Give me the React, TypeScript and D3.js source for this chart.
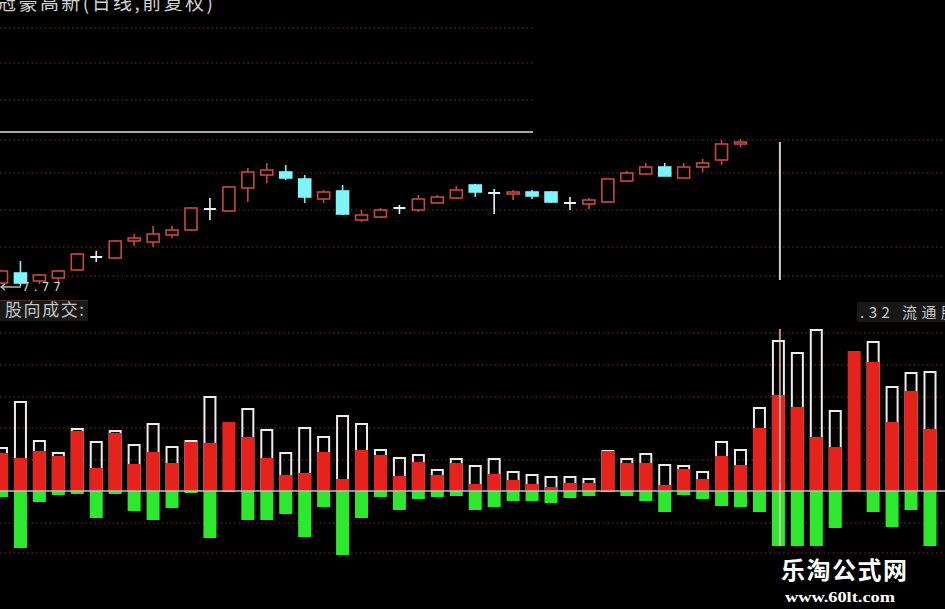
import React, { useEffect } from "react";
import * as d3 from "d3";

// ---- Data ----
const candleOpen = [7.80,7.90,7.82,7.85,7.93,8.06,8.05,8.22,8.21,8.28,8.33,8.54,8.52,8.75,8.88,8.91,8.84,8.64,8.72,8.43,8.46,8.55,8.53,8.60,8.65,8.78,8.70,8.69,8.71,8.71,8.60,8.59,8.61,8.82,8.89,8.96,8.85,8.96,9.03,9.19];
const candleClose = [7.92,7.80,7.88,7.92,8.09,8.06,8.22,8.25,8.29,8.33,8.55,8.54,8.76,8.91,8.93,8.85,8.66,8.71,8.49,8.48,8.53,8.55,8.64,8.66,8.73,8.71,8.70,8.71,8.67,8.61,8.60,8.63,8.84,8.90,8.96,8.87,8.96,9.00,9.19,9.21];
const candleHigh = [7.93,8.02,7.89,7.93,8.10,8.12,8.23,8.29,8.37,8.37,8.56,8.65,8.77,8.95,9.00,8.98,8.88,8.73,8.78,8.53,8.55,8.58,8.68,8.68,8.77,8.79,8.74,8.73,8.73,8.72,8.66,8.65,8.85,8.92,9.00,9.00,9.00,9.04,9.23,9.24];
const candleLow = [7.79,7.77,7.79,7.81,7.92,8.01,8.04,8.17,8.16,8.25,8.32,8.43,8.51,8.61,8.80,8.83,8.60,8.60,8.48,8.41,8.45,8.49,8.51,8.59,8.64,8.66,8.49,8.63,8.64,8.60,8.53,8.54,8.60,8.81,8.88,8.87,8.85,8.91,8.98,9.16];

const volTotal = [44,90,51,39,63,50,61,47,68,45,51,95,69,83,62,39,64,55,76,68,42,34,37,22,33,26,33,20,17,15,15,13,41,33,38,27,26,20,50,42,84,151,139,162,81,140,150,105,119,120];
const volBuy = [38,33,40,35,60,23,58,27,39,28,49,48,69,54,33,16,18,39,12,41,36,15,29,16,28,7,17,11,7,4,8,8,40,28,28,6,22,12,35,26,63,96,84,54,44,140,129,69,100,62];
const volSell = [6,57,11,4,3,27,3,20,29,17,2,47,1,29,29,23,46,16,64,27,6,19,8,6,5,19,16,10,10,12,7,5,1,5,10,21,4,8,15,16,21,55,55,55,37,0,21,36,19,55];

const titleText = "冠豪高新(日线,前复权)";
const volLabel = "股向成交:";
const rightLabel = ".32 流通股";
const lowLabel = "7.77";
const cursorIndex = 41;
const topGrid = [28, 63, 100];
const candleGrid = [140, 173, 210, 247, 276];
const volGrid = [333, 365, 397, 428, 460, 523, 553];

const W = 945, H = 609;

export default function App() {
  useEffect(() => {
    document.body.style.margin = "0";
    document.body.style.background = "#000";
  }, []);

  const n = volTotal.length;
  const x = d3.scaleLinear().domain([0, n - 1]).range([1.5, 930]);
  const py = d3.scaleLinear().domain([7.77, 9.24]).range([286, 139]);
  const vy = d3.scaleLinear().domain([0, 100]).range([491, 391]);
  const bw = 13;
  const cw = 12;

  const RED = "#c44a40";
  const CYAN = "#7ff4fb";
  const WHITE = "#e6f4f4";
  const GRID = "#7a2a2a";

  const cx = x(cursorIndex) + 1.5;

  return (
    <svg width={W} height={H} style={{ position: "fixed", left: 0, top: 0, background: "#000", display: "block" }}>
      <rect x={0} y={0} width={W} height={H} fill="#000" />
      {/* top panel */}
      {topGrid.map((g) => (
        <line key={"tg" + g} x1={0} x2={533} y1={g} y2={g} stroke={GRID} strokeDasharray="1.5 3" strokeWidth={1} />
      ))}
      <line x1={0} x2={533} y1={132} y2={132} stroke="#a8a8a8" strokeWidth={2} />
      <text x={-3} y={10} fontFamily="'Noto Sans CJK SC'" fontSize={19} fill="#d2d2d2" textLength={216} lengthAdjust="spacing">{titleText}</text>

      {/* candle panel grid */}
      {candleGrid.map((g) => (
        <line key={"cg" + g} x1={0} x2={W} y1={g} y2={g} stroke={GRID} strokeDasharray="1.5 3" strokeWidth={1} />
      ))}

      {/* candles */}
      {candleOpen.map((o, i) => {
        const c = candleClose[i];
        const hx = x(i);
        const yo = py(o), yc = py(c), yh = py(candleHigh[i]), yl = py(candleLow[i]);
        if (o === c) {
          return (
            <g key={"c" + i} stroke={WHITE} strokeWidth={1.6}>
              <line x1={hx} x2={hx} y1={yh} y2={yl} />
              <line x1={hx - cw / 2} x2={hx + cw / 2} y1={yo} y2={yo} strokeWidth={2} />
            </g>
          );
        }
        const up = c > o;
        const top = Math.min(yo, yc), bot = Math.max(yo, yc);
        const col = up ? RED : CYAN;
        return (
          <g key={"c" + i}>
            <line x1={hx} x2={hx} y1={yh} y2={top} stroke={col} strokeWidth={1.6} />
            <line x1={hx} x2={hx} y1={bot} y2={yl} stroke={col} strokeWidth={1.6} />
            <rect x={hx - cw / 2} y={top} width={cw} height={Math.max(bot - top, 2)} fill={up ? "#000" : CYAN} stroke={col} strokeWidth={1.6} />
          </g>
        );
      })}

      {/* low label */}
      <g stroke="#cfcfcf" strokeWidth={1.3} fill="none">
        <line x1={1} x2={21} y1={287} y2={287} />
        <polyline points="5,284 1,287 5,290" />
      </g>
      <text x={22} y={291} fontFamily="'DejaVu Sans'" fontSize={12} fill="#d6d6d6" textLength={39} lengthAdjust="spacing">{lowLabel}</text>

      {/* cursor line in candle panel */}
      <line x1={cx} x2={cx} y1={142} y2={280} stroke="#cfcfcf" strokeWidth={2} />

      {/* volume panel labels */}
      <rect x={0} y={300} width={88} height={21} fill="#181818" />
      <line x1={0} x2={88} y1={300.5} y2={300.5} stroke="#4a2e22" strokeWidth={1} />
      <text x={5} y={316} fontFamily="'Noto Sans CJK SC'" fontSize={17} fill="#c4c4c4" textLength={79} lengthAdjust="spacing">{volLabel}</text>
      <rect x={857} y={302} width={90} height={20} fill="#181818" />
      <text x={860} y={318} fontFamily="'Noto Sans CJK SC'" fontSize={15} fill="#c8c8c8" textLength={96} lengthAdjust="spacing">{rightLabel}</text>

      {/* volume grid */}
      {volGrid.map((g) => (
        <line key={"vg" + g} x1={0} x2={W} y1={g} y2={g} stroke={GRID} strokeDasharray="1.5 3" strokeWidth={1} />
      ))}

      {/* volume bars */}
      {volTotal.map((t, i) => {
        const bx = x(i) - bw / 2;
        const y0 = vy(0);
        const yt = vy(t);
        const yb = vy(volBuy[i]);
        const ys = vy(-volSell[i]);
        return (
          <g key={"v" + i}>
            {t > volBuy[i] && (
              <rect x={bx + 1} y={yt + 1} width={bw - 2} height={y0 - yt - 1} fill="none" stroke="#ececec" strokeWidth={2} />
            )}
            <rect x={bx} y={yb} width={bw} height={y0 - yb} fill="#e5231c" />
            {volSell[i] > 0 && <rect x={bx} y={y0} width={bw} height={ys - y0} fill="#2ee82e" />}
          </g>
        );
      })}

      {/* zero line */}
      <line x1={0} x2={W} y1={491} y2={491} stroke="#bdbdbd" strokeWidth={1.6} />

      {/* cursor line in volume panel */}
      <line x1={cx} x2={cx} y1={329} y2={546} stroke="#f0c0c0" strokeOpacity={0.75} strokeWidth={2} />

      {/* watermark */}
      <text x={781} y={579} fontFamily="'Noto Sans CJK SC'" fontWeight="bold" fontSize={24} fill="#ffffff" textLength={126} lengthAdjust="spacing">乐淘公式网</text>
      <text x={785} y={602} fontFamily="'Liberation Serif'" fontWeight="bold" fontSize={15} fill="#ffffff" textLength={110} lengthAdjust="spacingAndGlyphs">www.60lt.com</text>
    </svg>
  );
}
